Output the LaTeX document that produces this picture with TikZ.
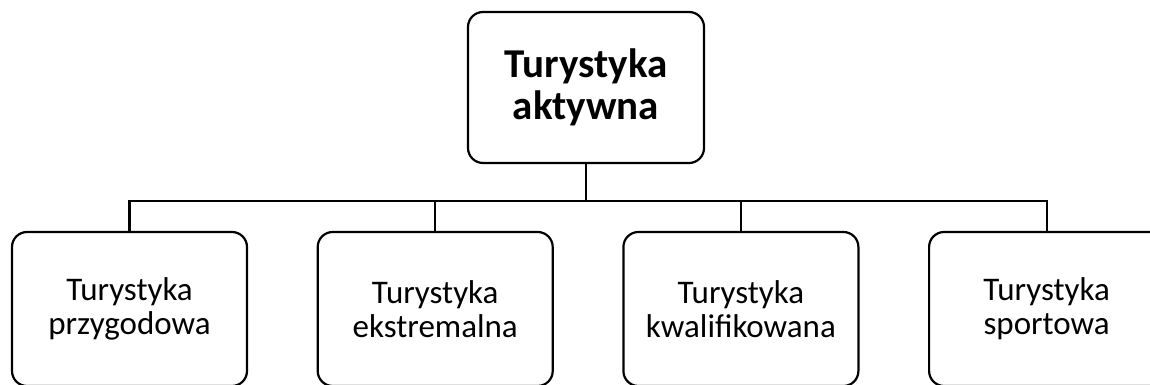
\documentclass[tikz,border=0pt]{standalone}
\usepackage{fontspec}
\setmainfont{Carlito}
\usetikzlibrary{positioning}
\tikzset{
    %Define style for the main box
    korzen/.style={
           rectangle,
           rounded corners=15pt,
           draw=black, line width=2.2pt,
           minimum width=236pt,
           minimum height=151pt,
           align=center,
           font=\fontsize{41}{42}\selectfont\bfseries},
    %Define style for the lower boxes
    galaz/.style={
           rectangle,
           rounded corners=15pt,
           draw=black, line width=2.2pt,
           minimum width=235pt,
           minimum height=154pt,
           align=center,
           font=\fontsize{33}{34}\selectfont},
    % Define line style
    linia/.style={
           draw=black,
           line width=2.2pt}
}
\begin{document}
\begin{tikzpicture}[x=1pt,y=1pt,node distance=68.5pt]
\useasboundingbox (0,0) rectangle (1150,385);
\clip (0,0) rectangle (1150,385);
\node[korzen](glowny) at (586,297.5){Turystyka\\aktywna};
\node[galaz](p1) at (129.5,76){Turystyka\\przygodowa};
\node[galaz, right =of p1](p2){Turystyka\\ekstremalna};
\node[galaz, right =of p2](p3){Turystyka\\kwalifikowana};
\node[galaz, right =of p3](p4){Turystyka\\sportowa};
\coordinate (szyna) at ([yshift=-37pt]glowny.south);
 \path[linia]
    (glowny.south) -- (szyna)
    (szyna) -| (p1.north)
    (szyna) -| (p2.north)
    (szyna) -| (p3.north)
    (szyna) -| (p4.north);
\end{tikzpicture}
\end{document}
